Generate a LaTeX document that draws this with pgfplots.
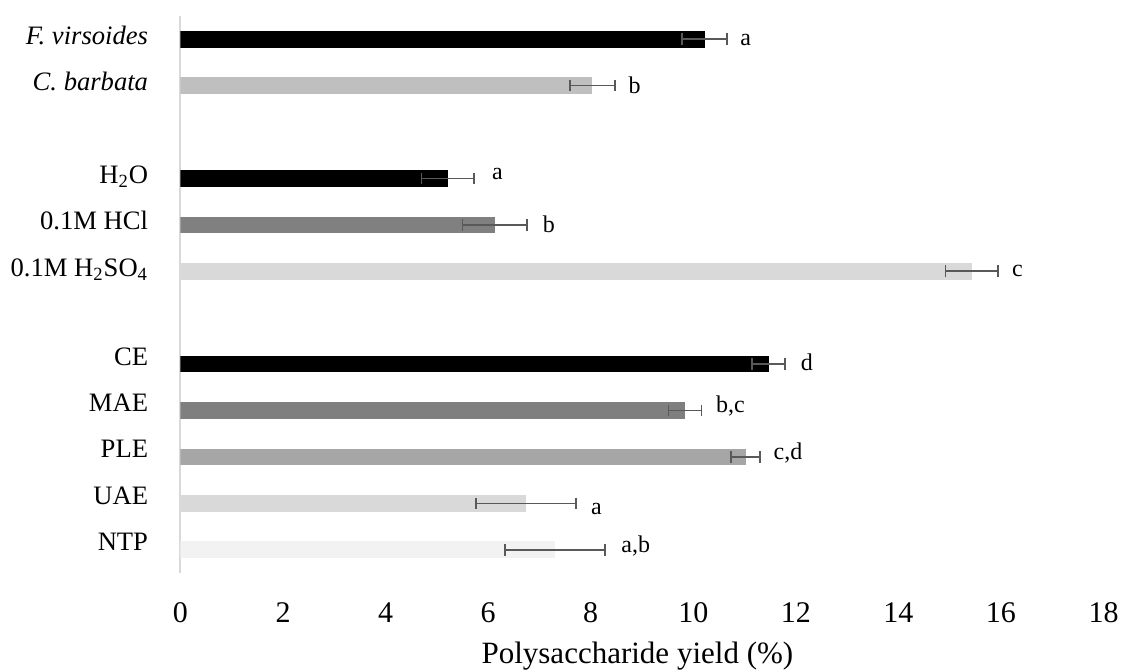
\documentclass[border=0pt]{standalone}
\usepackage{fontspec}
\setmainfont{Liberation Serif}
\usepackage{pgfplots}
\pgfplotsset{compat=1.18}
\definecolor{errc}{HTML}{595959}
\definecolor{linegray}{HTML}{D9D9D9}
\definecolor{cBF}{HTML}{BFBFBF}
\definecolor{c80}{HTML}{808080}
\definecolor{cD9}{HTML}{D9D9D9}
\definecolor{c7F}{HTML}{7F7F7F}
\definecolor{cA6}{HTML}{A6A6A6}
\definecolor{cF2}{HTML}{F2F2F2}
\pgfplotsset{
  mybar/.style={xbar, bar width=8.35pt, bar shift=0pt, fill=#1, draw=none, mark=none,
    error bars/.cd, x dir=both, x explicit, error mark=|,
    error bar style={color=errc, draw=errc, line width=0.8pt, solid},
    error mark options={color=errc, draw=errc, line width=0.8pt, mark size=2.9pt, solid}},
}
\begin{document}
\begin{tikzpicture}
\path[use as bounding box] (-90.25pt,-49pt) rectangle (470.75pt,286.5pt);
\begin{axis}[
  scale only axis, width=461.5pt, height=278.5pt,
  at={(0pt,0pt)}, anchor=south west,
  xmin=0, xmax=18, ymin=-0.5, ymax=11.5,
  xtick={0,2,...,18},
  ytick={0,1,2,3,4,6,7,8,10,11},
  yticklabels={\raisebox{2pt}{NTP},\raisebox{2pt}{UAE},\raisebox{2pt}{PLE},\raisebox{2pt}{MAE},\raisebox{2pt}{CE},{0.1M H\textsubscript{2}SO\textsubscript{4}},0.1M HCl,H\textsubscript{2}O,\textit{C. barbata},\textit{F. virsoides}},
  axis lines*=left,
  x axis line style={draw=none},
  y axis line style={-, draw=linegray, line width=1pt},
  major tick length=0pt,
  xtick style={draw=none}, ytick style={draw=none},
  /pgf/number format/assume math mode=true,
  xticklabel style={font=\fontsize{15}{18}\selectfont, anchor=base, yshift=-24.5pt},
  yticklabel style={font=\fontsize{13.3}{15}\selectfont, anchor=base east, xshift=-12.7pt, yshift=-2.5pt},
  xlabel={Polysaccharide yield (\%)},
  xlabel style={font=\fontsize{15.5}{18}\selectfont, at={(axis description cs:0.495,0)}, anchor=base, yshift=-45pt},
]
\addplot[mybar=black] coordinates {(10.22,11) +- (0.44,0)};
\addplot[mybar=cBF] coordinates {(8.03,10) +- (0.44,0)};
\addplot[mybar=black] coordinates {(5.21,8) +- (0.51,0)};
\addplot[mybar=c80] coordinates {(6.13,7) +- (0.63,0)};
\addplot[mybar=cD9] coordinates {(15.43,6) +- (0.51,0)};
\addplot[mybar=black] coordinates {(11.47,4) +- (0.32,0)};
\addplot[mybar=c7F] coordinates {(9.84,3) +- (0.32,0)};
\addplot[mybar=cA6] coordinates {(11.02,2) +- (0.28,0)};
\addplot[mybar=cD9] coordinates {(6.74,1) +- (0.975,0)};
\addplot[mybar=cF2] coordinates {(7.30,0) +- (0.975,0)};
\addplot[only marks, mark=none, nodes near coords, point meta=explicit symbolic,
  nodes near coords style={anchor=base west, inner sep=0pt, font=\fontsize{12}{14}\selectfont, text=black}]
  table[meta=lab] {
x y lab
10.91 10.856 a
8.73 9.826 b
6.07 7.98 a
7.06 6.84 b
16.21 5.88 c
12.09 3.86 d
10.44 2.95 b,c
11.56 1.95 c,d
8.00 0.77 a
8.59 -0.05 a,b
};
\end{axis}
\end{tikzpicture}
\end{document}
